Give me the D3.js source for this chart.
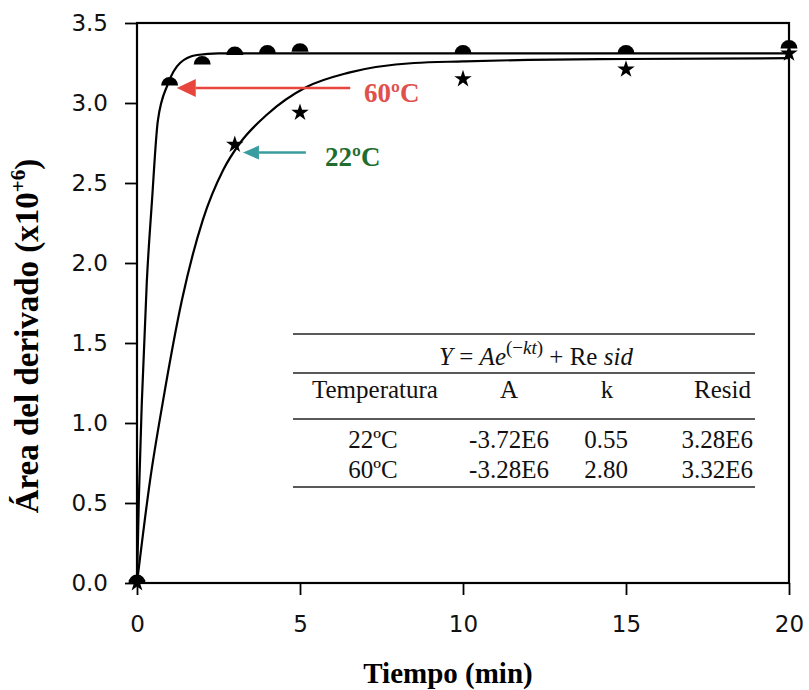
<!DOCTYPE html>
<html>
<head>
<meta charset="utf-8">
<script src="https://cdn.jsdelivr.net/npm/d3@7"></script>
<style>
  body { margin: 0; background: #fff; }
</style>
</head>
<body>
<div id="grafico"></div>
<script>
// datos experimentales (area x10^6 vs tiempo en min)
const tiempos60 = [0, 1, 2, 3, 4, 5, 10, 15, 20];
const area60 = [0, 3.11, 3.24, 3.30, 3.31, 3.32, 3.31, 3.31, 3.34];
const tiempos22 = [0, 3, 5, 10, 15, 20];
const area22 = [0, 2.74, 2.94, 3.15, 3.21, 3.31];

// curvas de ajuste
const ajusteT60 = [0, 0.06, 0.15, 0.3, 0.46, 0.64, 0.95, 1.32, 1.84, 2.5, 5, 10, 15, 20];
const ajusteY60 = [0, 0.55, 1.14, 1.88, 2.39, 2.89, 3.12, 3.25, 3.30, 3.31, 3.31, 3.31, 3.31, 3.31];
const ajusteT22 = [0, 0.4, 0.8, 1.38, 2.02, 2.64, 3.16, 4, 5.2, 6.5, 8.5, 10, 12, 15, 20];
const ajusteY22 = [0, 0.64, 1.14, 1.77, 2.27, 2.58, 2.75, 2.93, 3.10, 3.19, 3.25, 3.26, 3.27, 3.275, 3.28];

const xTicks = [0, 5, 10, 15, 20];
const yTicks = [0, 0.5, 1.0, 1.5, 2.0, 2.5, 3.0, 3.5];

// tabla de parametros
const tablaCabecera = ["Temperatura", "A", "k", "Resid"];
const tablaFilas = [
    ["22ºC", "-3.72E6", "0.55", "3.28E6"],
    ["60ºC", "-3.28E6", "2.80", "3.32E6"]
];

const width = 809;
const height = 690;

const svg = d3.select("#grafico")
    .append("svg")
    .attr("width", width)
    .attr("height", height)
    .style("font-family", "'Liberation Serif', serif");

const xScale = d3.scaleLinear().domain([0, 20]).range([137, 789]);
const yScale = d3.scaleLinear().domain([0, 3.5]).range([583, 23]);

// ejes
const ejeX = svg.append("g")
    .attr("transform", `translate(0,${yScale(0)})`)
    .call(d3.axisBottom(xScale).tickValues(xTicks).tickSize(12).tickSizeOuter(0).tickPadding(21));
const ejeY = svg.append("g")
    .attr("transform", `translate(${xScale(0)},0)`)
    .call(d3.axisLeft(yScale).tickValues(yTicks).tickSize(12).tickSizeOuter(0).tickPadding(17)
        .tickFormat(d3.format(".1f")));

[ejeX, ejeY].forEach(g => {
    g.select(".domain").remove();
    g.selectAll(".tick line").attr("stroke", "#000").attr("stroke-width", 1.8);
    g.selectAll(".tick text")
        .attr("fill", "#111")
        .style("font-family", "'DejaVu Sans', sans-serif")
        .style("font-size", "23px");
});

// marco
svg.append("rect")
    .attr("x", xScale(0))
    .attr("y", yScale(3.5))
    .attr("width", xScale(20) - xScale(0))
    .attr("height", yScale(0) - yScale(3.5))
    .attr("fill", "none")
    .attr("stroke", "#000")
    .attr("stroke-width", 2.2);

// curvas ajustadas
const linea = d3.line()
    .x(d => xScale(d[0]))
    .y(d => yScale(d[1]))
    .curve(d3.curveMonotoneX);

svg.append("path")
    .datum(ajusteT60.map((t, i) => [t, ajusteY60[i]]))
    .attr("d", linea)
    .attr("fill", "none")
    .attr("stroke", "#000")
    .attr("stroke-width", 2.2);

svg.append("path")
    .datum(ajusteT22.map((t, i) => [t, ajusteY22[i]]))
    .attr("d", linea)
    .attr("fill", "none")
    .attr("stroke", "#000")
    .attr("stroke-width", 2.2);

// puntos 60ºC (semicirculos)
svg.selectAll(".semi")
    .data(tiempos60.map((t, i) => [t, area60[i]]))
    .enter()
    .append("path")
    .attr("class", "semi")
    .attr("transform", d => `translate(${xScale(d[0])},${yScale(d[1])})`)
    .attr("d", "M-8.5,0 A8.5,8.5 0 0 1 8.5,0 Z")
    .attr("fill", "#000");

// puntos 22ºC (estrellas)
svg.selectAll(".estrella")
    .data(tiempos22.map((t, i) => [t, area22[i]]))
    .enter()
    .append("path")
    .attr("class", "estrella")
    .attr("transform", d => `translate(${xScale(d[0])},${yScale(d[1])})`)
    .attr("d", d3.symbol().type(d3.symbolStar).size(95))
    .attr("fill", "#000");

// flechas y etiquetas
function flecha(x1, x2, yv, color, largo, alto) {
    const y = yScale(yv);
    svg.append("line")
        .attr("x1", xScale(x1)).attr("x2", xScale(x2) + largo)
        .attr("y1", y).attr("y2", y)
        .attr("stroke", color)
        .attr("stroke-width", 2.5);
    const xp = xScale(x2);
    svg.append("path")
        .attr("d", `M${xp},${y} L${xp + largo},${y - alto} L${xp + largo},${y + alto} Z`)
        .attr("fill", color);
}
flecha(6.54, 1.22, 3.094, "#e8453e", 19, 9);
flecha(5.18, 3.25, 2.69, "#3a9c9e", 16, 7);

svg.append("text")
    .attr("x", 364).attr("y", 102)
    .attr("fill", "#e0504c")
    .style("font-size", "27px")
    .style("font-weight", "bold")
    .text("60ºC");
svg.append("text")
    .attr("x", 325).attr("y", 166)
    .attr("fill", "#1f6e30")
    .style("font-size", "27px")
    .style("font-weight", "bold")
    .text("22ºC");

// tabla
const tabla = svg.append("g").style("font-size", "25px").attr("fill", "#111");
[334, 373, 419, 487].forEach(y => {
    tabla.append("line")
        .attr("x1", 293).attr("x2", 755)
        .attr("y1", y).attr("y2", y)
        .attr("stroke", "#222")
        .attr("stroke-width", 1.6);
});

const formula = tabla.append("text")
    .attr("x", 536).attr("y", 365)
    .attr("text-anchor", "middle");
formula.append("tspan").style("font-style", "italic").text("Y");
formula.append("tspan").text(" = ");
formula.append("tspan").style("font-style", "italic").text("Ae");
formula.append("tspan").attr("dy", -11).style("font-size", "19px").text("(−");
formula.append("tspan").style("font-size", "19px").style("font-style", "italic").text("kt");
formula.append("tspan").style("font-size", "19px").text(")");
formula.append("tspan").attr("dy", 11).text(" + Re");
formula.append("tspan").style("font-style", "italic").text(" sid");

const colX = [312, 509, 607, 751];
const colAnchor = ["start", "middle", "middle", "end"];
tabla.selectAll(".cab")
    .data(tablaCabecera)
    .enter()
    .append("text")
    .attr("class", "cab")
    .attr("x", (d, i) => colX[i])
    .attr("y", 398)
    .attr("text-anchor", (d, i) => colAnchor[i])
    .text(d => d);

const filaX = [373, 509, 606, 753];
tablaFilas.forEach((fila, j) => {
    tabla.selectAll(".fila" + j)
        .data(fila)
        .enter()
        .append("text")
        .attr("x", (d, i) => filaX[i])
        .attr("y", 448 + j * 30)
        .attr("text-anchor", (d, i) => i === 3 ? "end" : "middle")
        .text(d => d);
});

// titulos de ejes
svg.append("text")
    .attr("x", 448).attr("y", 683)
    .attr("text-anchor", "middle")
    .style("font-size", "29px")
    .style("font-weight", "bold")
    .text("Tiempo (min)");

const tituloY = svg.append("text")
    .attr("transform", "translate(38,336) rotate(-90)")
    .attr("text-anchor", "middle")
    .style("font-size", "33px")
    .style("font-weight", "bold");
tituloY.append("tspan").text("Área del derivado (x10");
tituloY.append("tspan").attr("dy", -13).style("font-size", "21px").text("+6");
tituloY.append("tspan").attr("dy", 13).text(")");
</script>
</body>
</html>
